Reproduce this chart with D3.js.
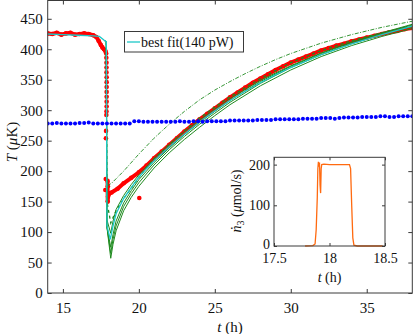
<!DOCTYPE html>
<html>
<head>
<meta charset="utf-8">
<script src="https://cdn.jsdelivr.net/npm/d3@7"></script>
<style>
  body { margin: 0; background: #fff; }
  text { font-family: "Liberation Serif", "Times New Roman", serif; fill: #111; }
</style>
</head>
<body>
<div id="chart"></div>
<script>
// ---- data ----
var xTicks = [15, 20, 25, 30, 35];
var yTicks = [0, 50, 100, 150, 200, 250, 300, 350, 400, 450];
var insetXTicks = [17.5, 18, 18.5];
var insetYTicks = [0, 100, 200];

// blue reference thermometer
var blueTime = [14.0,14.3,14.6,14.9,15.2,15.5,15.8,16.1,16.4,16.7,17.0,17.3,17.6,17.9,18.2,18.5,18.8,19.1,19.4,19.7,
  20.0,20.3,20.6,20.9,21.2,21.5,21.8,22.1,22.4,22.7,23.0,23.3,23.6,23.9,24.2,24.5,24.8,25.1,25.4,25.7,
  26.0,26.3,26.6,26.9,27.2,27.5,27.8,28.1,28.4,28.7,29.0,29.3,29.6,29.9,30.2,30.5,30.8,31.1,31.4,31.7,
  32.0,32.3,32.6,32.9,33.2,33.5,33.8,34.1,34.4,34.7,35.0,35.3,35.6,35.9,36.2,36.5,36.8,37.1,37.4,37.7,38.0];
var blueTemp = [278,278,279,278,278,278,278,279,279,280,278,278,278,278,278,278,278,278,278,282,
  282,281,281,281,281,281,281,281,281,282,281,281,282,282,281,282,282,282,282,282,
  283,283,283,283,283,283,284,284,284,284,285,285,285,285,285,285,286,286,286,286,
  287,287,287,286,287,288,288,288,288,289,289,289,289,290,290,289,289,290,290,290,290];

// red measured temperature: dense track before and after the fast drop
var redBefore = [[14.0,426],[14.3,425],[14.6,427],[14.9,424],[15.2,426],[15.5,427],[15.8,424],[16.1,425],
  [16.4,426],[16.7,425],[17.0,423],[17.2,420],[17.35,414],[17.5,407],[17.6,403],[17.7,400],[17.8,397],[17.85,393]];
var redAfter = [[17.94,184],[17.95,150],[17.97,158],[18.05,163],[18.2,165],[18.6,171],[19.0,180],[19.5,189],
  [20.0,198],[20.5,209],[21.0,221],[21.5,232],[22.0,243],[22.5,254],[23.0,265],[23.5,275],[24.0,285],
  [24.5,294],[25.0,303],[25.5,312],[26.0,321],[26.5,329],[27.0,337],[27.5,345],[28.0,352],[28.5,359],
  [29.0,366],[29.5,372],[30.0,378],[30.5,383],[31.0,388],[31.5,393],[32.0,398],[32.5,402],[33.0,406],
  [33.5,409],[34.0,413],[34.5,416],[35.0,419],[35.5,422],[36.0,425],[36.5,428],[37.0,430],[37.5,433],[38.0,435]];
// red isolated samples during the fast drop
var redScatter = [[17.86,386],[17.87,378],[17.87,370],[17.87,362],[17.88,354],[17.88,346],[17.88,338],
  [17.88,330],[17.88,322],[17.88,314],[17.88,306],[17.87,298],[17.86,292],[17.84,266],[17.83,254],
  [17.82,187],[17.79,169],[17.96,175],[20.03,156]];

// fits
var cyanFit = [[14.0,425],[15.0,424],[16.0,423],[17.0,422],[17.4,421],[17.7,415],[17.86,412],[17.9,110],
  [18.12,88],[18.3,110],[18.5,130],[19.0,155],[19.5,173],[20.0,190],[20.5,204],[21.0,217],[22.0,240],
  [23.0,261],[24.0,281],[25.0,299],[26.0,316],[27.0,331],[28.0,345],[29.0,358],[30.0,370],[32.0,391],
  [34.0,409],[36.0,424],[38.0,438]];
var greenFit1 = [[17.7,415],[17.86,412],[17.89,110],[18.15,57],[18.3,80],[18.5,102],[19.0,135],[19.5,157],
  [20.0,175],[21.0,205],[22.0,230],[23.0,252],[24.0,272],[25.0,291],[26.0,309],[28.0,340],[30.0,366],
  [32.0,388],[34.0,406],[36.0,421],[38.0,434]];
var greenFit2 = [[17.7,415],[17.86,412],[17.89,110],[18.15,65],[18.3,88],[18.5,110],[19.0,142],[19.5,163],
  [20.0,181],[21.0,210],[22.0,235],[23.0,257],[24.0,277],[25.0,295],[26.0,313],[28.0,344],[30.0,370],
  [32.0,391],[34.0,409],[36.0,424],[38.0,437]];
var greenFit3 = [[17.7,415],[17.86,412],[17.89,110],[18.15,75],[18.3,96],[18.5,118],[19.0,148],[19.5,168],
  [20.0,186],[21.0,214],[22.0,238],[23.0,260],[24.0,280],[25.0,298],[26.0,316],[28.0,347],[30.0,372],
  [32.0,393],[34.0,411],[36.0,426],[38.0,440]];
var greenFit4 = [[17.7,415],[17.86,412],[17.9,120],[18.15,98],[18.3,118],[18.5,137],[19.0,160],[19.5,178],
  [20.0,194],[21.0,221],[22.0,244],[23.0,265],[24.0,284],[25.0,302],[26.0,319],[28.0,349],[30.0,373],
  [32.0,394],[34.0,412],[36.0,427],[38.0,441]];
var greenDashed = [[17.86,412],[17.9,150],[18.15,115],[18.5,135],[19.0,155],[19.5,172],[20.0,190],[20.5,205],
  [21.0,220],[22.0,243],[23.0,266],[24.0,287],[25.0,305],[26.0,322],[28.0,352],[30.0,378],[32.0,398],
  [34.0,414],[36.0,427],[38.0,438]];
var greenUpper = [[17.92,176],[18.2,180],[19.0,200],[20.0,228],[21.0,254],[22.0,277],[23.0,298],[24.0,317],
  [25.0,333],[26.0,347],[27.0,360],[28.0,372],[29.0,383],[30.0,393],[32.0,410],[34.0,424],[36.0,436],[38.0,446]];

// inset: He-3 flow rate
var flowTime = [17.78,17.85,17.87,17.88,17.89,17.895,17.9,17.905,17.91,17.915,17.92,17.925,17.93,17.95,
  18.0,18.1,18.18,18.19,18.2,18.21,18.22,18.25,18.48];
var flowRate = [0,1,5,40,120,190,207,195,205,150,130,190,200,201,200,200,200,190,100,20,2,0,0];

var legendLabel = "best fit(140 pW)";

// ---- layout ----
var W = 415, H = 334;
var plot = {left: 47.7, right: 412.3, top: 0.5, bottom: 293};
var inset = {left: 274, right: 385, top: 157.3, bottom: 246};
var axisColor = "#3a3a3a";
var cGreen = "#1f8a1f", cCyan = "#1cc8c8", cRed = "#ff0000", cBlue = "#0000ff", cOrange = "#ff6a10";

var svg = d3.select("#chart").append("svg")
    .attr("width", W)
    .attr("height", H);

var x = d3.scaleLinear().domain([14, 38]).range([plot.left, plot.right]);
var y = d3.scaleLinear().domain([0, 480]).range([plot.bottom, plot.top]);

var line = d3.line()
    .x(function(d) { return x(d[0]); })
    .y(function(d) { return y(d[1]); });

svg.append("clipPath").attr("id", "clipMain")
  .append("rect")
    .attr("x", plot.left).attr("y", plot.top)
    .attr("width", plot.right - plot.left).attr("height", plot.bottom - plot.top);

var g = svg.append("g").attr("clip-path", "url(#clipMain)");

// red measured data
[redBefore, redAfter].forEach(function(track) {
    g.append("path")
        .attr("d", line(track))
        .attr("fill", "none")
        .attr("stroke", cRed)
        .attr("stroke-width", 4)
        .attr("stroke-linejoin", "round");
});
g.append("g").selectAll("circle")
    .data(redBefore.concat(redAfter, redScatter))
    .enter().append("circle")
      .attr("cx", function(d) { return x(d[0]); })
      .attr("cy", function(d) { return y(d[1]); })
      .attr("r", 2.3)
      .attr("fill", cRed);

// green model curves
[greenFit1, greenFit2, greenFit3, greenFit4].forEach(function(c) {
    g.append("path")
        .attr("d", line(c))
        .attr("fill", "none")
        .attr("stroke", cGreen)
        .attr("stroke-width", 1);
});
g.append("path")
    .attr("d", line(greenDashed))
    .attr("fill", "none")
    .attr("stroke", cGreen)
    .attr("stroke-width", 1.3)
    .attr("stroke-dasharray", "3,3");
g.append("path")
    .attr("d", line(greenUpper))
    .attr("fill", "none")
    .attr("stroke", cGreen)
    .attr("stroke-width", 0.9)
    .attr("stroke-dasharray", "4,1.5,1,1.5");

// cyan best fit
g.append("path")
    .attr("d", line(cyanFit))
    .attr("fill", "none")
    .attr("stroke", cCyan)
    .attr("stroke-width", 1.3);

// blue points
g.append("g").selectAll("circle")
    .data(blueTime)
    .enter().append("circle")
      .attr("cx", function(d) { return x(d); })
      .attr("cy", function(d, i) { return y(blueTemp[i]); })
      .attr("r", 2)
      .attr("fill", cBlue);

// ---- main axes (box, inner ticks) ----
svg.append("rect")
    .attr("x", plot.left).attr("y", plot.top)
    .attr("width", plot.right - plot.left).attr("height", plot.bottom - plot.top)
    .attr("fill", "none").attr("stroke", axisColor).attr("stroke-width", 1);

var xAxis = svg.append("g")
    .attr("transform", "translate(0," + plot.bottom + ")")
    .call(d3.axisBottom(x).tickValues(xTicks).tickSize(-4).tickPadding(9));
var xTop = svg.append("g")
    .attr("transform", "translate(0," + plot.top + ")")
    .call(d3.axisTop(x).tickValues(xTicks).tickSize(-4).tickFormat(""));
var yAxis = svg.append("g")
    .attr("transform", "translate(" + plot.left + ",0)")
    .call(d3.axisLeft(y).tickValues(yTicks).tickSize(-4).tickPadding(5));
var yRight = svg.append("g")
    .attr("transform", "translate(" + plot.right + ",0)")
    .call(d3.axisRight(y).tickValues(yTicks).tickSize(-4).tickFormat(""));
[xAxis, xTop, yAxis, yRight].forEach(function(a) {
    a.select(".domain").remove();
    a.selectAll("line").attr("stroke", axisColor);
    a.selectAll("text")
        .style("font-family", "'Liberation Serif', serif")
        .style("font-size", "15px")
        .attr("fill", "#111");
});

svg.append("text")
    .attr("x", (plot.left + plot.right) / 2)
    .attr("y", 332)
    .attr("text-anchor", "middle")
    .style("font-size", "15px")
    .html('<tspan font-style="italic">t</tspan> (h)');

svg.append("text")
    .attr("transform", "translate(17,142) rotate(-90)")
    .attr("text-anchor", "middle")
    .style("font-size", "15px")
    .html('<tspan font-style="italic">T</tspan> (<tspan font-style="italic">μ</tspan>K)');

// ---- legend ----
var legend = svg.append("g");
legend.append("rect")
    .attr("x", 124.5).attr("y", 31.5)
    .attr("width", 119).attr("height", 20.5)
    .attr("fill", "#fff")
    .attr("stroke", axisColor).attr("stroke-width", 1);
legend.append("line")
    .attr("x1", 127).attr("x2", 140)
    .attr("y1", 42).attr("y2", 42)
    .attr("stroke", cCyan).attr("stroke-width", 1.3);
legend.append("text")
    .attr("x", 141).attr("y", 46.5)
    .style("font-size", "14px")
    .text(legendLabel);

// ---- inset ----
var ix = d3.scaleLinear().domain([17.5, 18.5]).range([inset.left, inset.right]);
var iy = d3.scaleLinear().domain([0, 218]).range([inset.bottom, inset.top]);

svg.append("rect")
    .attr("x", inset.left).attr("y", inset.top)
    .attr("width", inset.right - inset.left).attr("height", inset.bottom - inset.top)
    .attr("fill", "#fff");

svg.append("path")
    .attr("d", d3.line()
        .x(function(d) { return ix(d); })
        .y(function(d, i) { return iy(flowRate[i]); })(flowTime))
    .attr("fill", "none")
    .attr("stroke", cOrange)
    .attr("stroke-width", 1.3);

svg.append("rect")
    .attr("x", inset.left).attr("y", inset.top)
    .attr("width", inset.right - inset.left).attr("height", inset.bottom - inset.top)
    .attr("fill", "none").attr("stroke", axisColor).attr("stroke-width", 1);

var ixAxis = svg.append("g")
    .attr("transform", "translate(0," + inset.bottom + ")")
    .call(d3.axisBottom(ix).tickValues(insetXTicks).tickSize(-3).tickPadding(7).tickFormat(d3.format("")));
var ixTop = svg.append("g")
    .attr("transform", "translate(0," + inset.top + ")")
    .call(d3.axisTop(ix).tickValues(insetXTicks).tickSize(-3).tickFormat(""));
var iyAxis = svg.append("g")
    .attr("transform", "translate(" + inset.left + ",0)")
    .call(d3.axisLeft(iy).tickValues(insetYTicks).tickSize(-3).tickPadding(4));
var iyRight = svg.append("g")
    .attr("transform", "translate(" + inset.right + ",0)")
    .call(d3.axisRight(iy).tickValues(insetYTicks).tickSize(-3).tickFormat(""));
[ixAxis, ixTop, iyAxis, iyRight].forEach(function(a) {
    a.select(".domain").remove();
    a.selectAll("line").attr("stroke", axisColor);
    a.selectAll("text")
        .style("font-family", "'Liberation Serif', serif")
        .style("font-size", "14px")
        .attr("fill", "#111");
});
// nudge the inset's "0" up a little so it clears "17.5"
iyAxis.selectAll(".tick text").filter(function(d) { return d === 0; }).attr("dy", "0.15em");

svg.append("text")
    .attr("x", (inset.left + inset.right) / 2)
    .attr("y", 282)
    .attr("text-anchor", "middle")
    .style("font-size", "14px")
    .html('<tspan font-style="italic">t</tspan> (h)');

svg.append("text")
    .attr("transform", "translate(241,201) rotate(-90)")
    .attr("text-anchor", "middle")
    .style("font-size", "14px")
    .html('<tspan font-style="italic">ṅ</tspan><tspan font-size="10px" dy="3">3</tspan><tspan dy="-3"> (</tspan><tspan font-style="italic">μ</tspan>mol/s)');
</script>
</body>
</html>
